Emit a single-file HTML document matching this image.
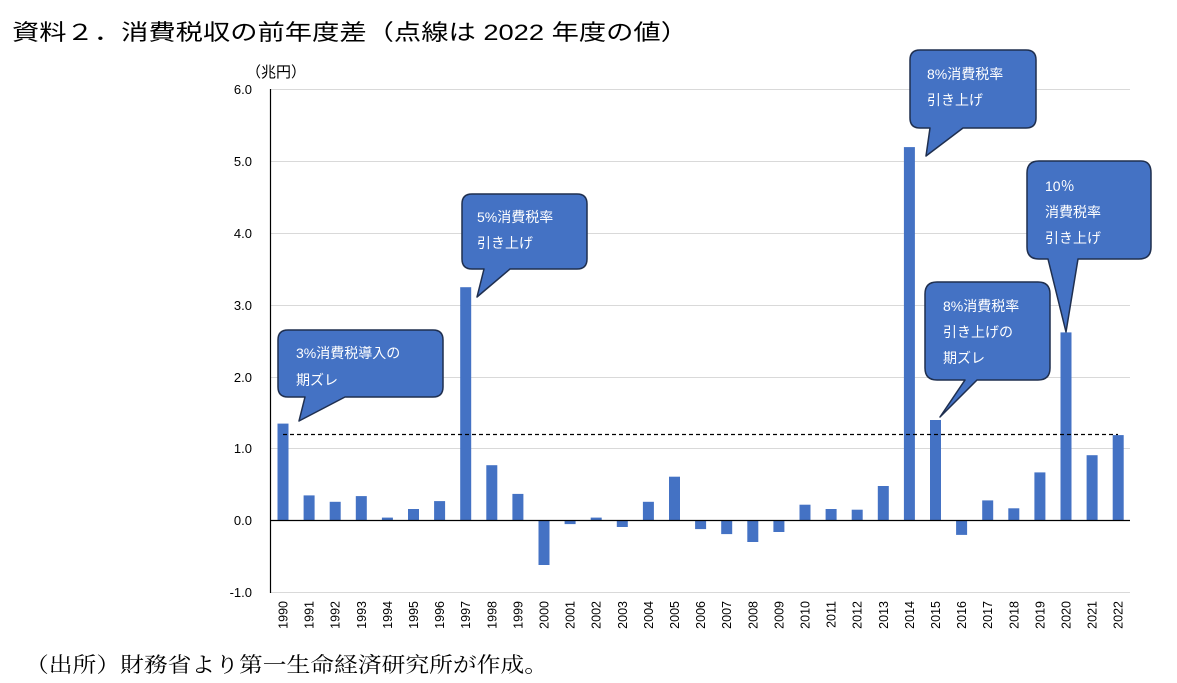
<!DOCTYPE html>
<html><head><meta charset="utf-8"><style>
html,body{margin:0;padding:0;background:#fff;}
svg{display:block;}
.t{font-family:"Liberation Sans","Noto Sans CJK JP",sans-serif;}
</style></head><body>
<svg width="1177" height="683" viewBox="0 0 1177 683" xmlns="http://www.w3.org/2000/svg">
<text class="t" x="12" y="40" font-size="22" fill="#000" textLength="676" lengthAdjust="spacingAndGlyphs">資料２．消費税収の前年度差（点線は 2022 年度の値）</text>
<text class="t" x="246" y="77" font-size="15" fill="#000">（兆円）</text>
<g stroke="#d9d9d9" stroke-width="1">
<line x1="270" y1="89.5" x2="1130" y2="89.5"/>
<line x1="270" y1="161.5" x2="1130" y2="161.5"/>
<line x1="270" y1="233.5" x2="1130" y2="233.5"/>
<line x1="270" y1="305.5" x2="1130" y2="305.5"/>
<line x1="270" y1="377.5" x2="1130" y2="377.5"/>
<line x1="270" y1="448.5" x2="1130" y2="448.5"/>
<line x1="270" y1="592.5" x2="1130" y2="592.5"/>
</g>
<g class="t" font-size="13" fill="#000" text-anchor="end">
<text x="252" y="94">6.0</text><text x="252" y="166">5.0</text><text x="252" y="238">4.0</text>
<text x="252" y="310">3.0</text><text x="252" y="382">2.0</text><text x="252" y="453">1.0</text>
<text x="252" y="525">0.0</text><text x="252" y="597">-1.0</text>
</g>
<g fill="#4472C4">
<rect x="277.5" y="423.6" width="11" height="96.9"/>
<rect x="303.6" y="495.4" width="11" height="25.1"/>
<rect x="329.7" y="501.8" width="11" height="18.7"/>
<rect x="355.8" y="496.1" width="11" height="24.4"/>
<rect x="381.9" y="517.6" width="11" height="2.9"/>
<rect x="408.0" y="509.0" width="11" height="11.5"/>
<rect x="434.1" y="501.1" width="11" height="19.4"/>
<rect x="460.2" y="287.2" width="11" height="233.3"/>
<rect x="486.3" y="465.2" width="11" height="55.3"/>
<rect x="512.4" y="493.9" width="11" height="26.6"/>
<rect x="538.5" y="520.5" width="11" height="44.5"/>
<rect x="564.6" y="520.5" width="11" height="3.6"/>
<rect x="590.7" y="517.6" width="11" height="2.9"/>
<rect x="616.8" y="520.5" width="11" height="6.5"/>
<rect x="642.9" y="501.8" width="11" height="18.7"/>
<rect x="669.0" y="476.7" width="11" height="43.8"/>
<rect x="695.1" y="520.5" width="11" height="8.6"/>
<rect x="721.2" y="520.5" width="11" height="13.6"/>
<rect x="747.3" y="520.5" width="11" height="21.5"/>
<rect x="773.4" y="520.5" width="11" height="11.5"/>
<rect x="799.5" y="504.7" width="11" height="15.8"/>
<rect x="825.6" y="509.0" width="11" height="11.5"/>
<rect x="851.7" y="509.7" width="11" height="10.8"/>
<rect x="877.8" y="486.0" width="11" height="34.5"/>
<rect x="903.9" y="147.1" width="11" height="373.4"/>
<rect x="930.0" y="420.0" width="11" height="100.5"/>
<rect x="956.1" y="520.5" width="11" height="14.4"/>
<rect x="982.2" y="500.4" width="11" height="20.1"/>
<rect x="1008.3" y="508.3" width="11" height="12.2"/>
<rect x="1034.4" y="472.4" width="11" height="48.1"/>
<rect x="1060.5" y="332.4" width="11" height="188.1"/>
<rect x="1086.6" y="455.2" width="11" height="65.3"/>
<rect x="1112.7" y="435.1" width="11" height="85.4"/>
</g>
<line x1="270.5" y1="89" x2="270.5" y2="593" stroke="#000" stroke-width="1.2"/>
<line x1="270" y1="520.5" x2="1130" y2="520.5" stroke="#000" stroke-width="1.2"/>
<line x1="283" y1="434.5" x2="1118" y2="434.5" stroke="#000" stroke-width="1.2" stroke-dasharray="4,3"/>
<g class="t" font-size="12.5" fill="#000" text-anchor="end">
<text transform="translate(287.5,601) rotate(-90)">1990</text>
<text transform="translate(313.6,601) rotate(-90)">1991</text>
<text transform="translate(339.7,601) rotate(-90)">1992</text>
<text transform="translate(365.8,601) rotate(-90)">1993</text>
<text transform="translate(391.9,601) rotate(-90)">1994</text>
<text transform="translate(418.0,601) rotate(-90)">1995</text>
<text transform="translate(444.1,601) rotate(-90)">1996</text>
<text transform="translate(470.2,601) rotate(-90)">1997</text>
<text transform="translate(496.3,601) rotate(-90)">1998</text>
<text transform="translate(522.4,601) rotate(-90)">1999</text>
<text transform="translate(548.5,601) rotate(-90)">2000</text>
<text transform="translate(574.6,601) rotate(-90)">2001</text>
<text transform="translate(600.7,601) rotate(-90)">2002</text>
<text transform="translate(626.8,601) rotate(-90)">2003</text>
<text transform="translate(652.9,601) rotate(-90)">2004</text>
<text transform="translate(679.0,601) rotate(-90)">2005</text>
<text transform="translate(705.1,601) rotate(-90)">2006</text>
<text transform="translate(731.2,601) rotate(-90)">2007</text>
<text transform="translate(757.3,601) rotate(-90)">2008</text>
<text transform="translate(783.4,601) rotate(-90)">2009</text>
<text transform="translate(809.5,601) rotate(-90)">2010</text>
<text transform="translate(835.6,601) rotate(-90)">2011</text>
<text transform="translate(861.7,601) rotate(-90)">2012</text>
<text transform="translate(887.8,601) rotate(-90)">2013</text>
<text transform="translate(913.9,601) rotate(-90)">2014</text>
<text transform="translate(940.0,601) rotate(-90)">2015</text>
<text transform="translate(966.1,601) rotate(-90)">2016</text>
<text transform="translate(992.2,601) rotate(-90)">2017</text>
<text transform="translate(1018.3,601) rotate(-90)">2018</text>
<text transform="translate(1044.4,601) rotate(-90)">2019</text>
<text transform="translate(1070.5,601) rotate(-90)">2020</text>
<text transform="translate(1096.6,601) rotate(-90)">2021</text>
<text transform="translate(1122.7,601) rotate(-90)">2022</text>
</g>
<g stroke="#1f2f4f" stroke-width="1.5" fill="#4472C4" stroke-linejoin="round">
<path d="M290,330 H433 Q443,330 443,340 V387 Q443,397 433,397 H345 L299,421 L305,397 H288 Q278,397 278,387 V340 Q278,330 288,330 Z"/>
<path d="M472,194 H577 Q587,194 587,204 V259 Q587,269 577,269 H510 L477,297 L484,269 H472 Q462,269 462,259 V204 Q462,194 472,194 Z"/>
<path d="M920,50 H1026 Q1036,50 1036,60 V118 Q1036,128 1026,128 H963 L926,156 L930,128 H920 Q910,128 910,118 V60 Q910,50 920,50 Z"/>
<path d="M1039,161 H1141 Q1151,161 1151,173 V247 Q1151,259 1139,259 H1078 L1066,332 L1048,259 H1039 Q1027,259 1027,247 V173 Q1027,161 1039,161 Z"/>
<path d="M937,282 H1038 Q1050,282 1050,294 V368 Q1050,380 1038,380 H977 L940,417 L965,380 H937 Q925,380 925,368 V294 Q925,282 937,282 Z"/>
</g>
<g class="t" font-size="14" fill="#fff">
<text x="296" y="358">3%消費税導入の</text><text x="296" y="385">期ズレ</text>
<text x="477" y="222">5%消費税率</text><text x="477" y="248">引き上げ</text>
<text x="927" y="79">8%消費税率</text><text x="927" y="105">引き上げ</text>
<text x="1045" y="191">10％</text><text x="1045" y="217">消費税率</text><text x="1045" y="243">引き上げ</text>
<text x="943" y="311">8%消費税率</text><text x="943" y="337">引き上げの</text><text x="943" y="363">期ズレ</text>
</g>
<text x="25" y="672" font-family="'Liberation Serif','Noto Serif CJK SC',serif" font-size="21" fill="#000" textLength="523" lengthAdjust="spacingAndGlyphs">（出所）財務省より第一生命経済研究所が作成。</text>
</svg>
</body></html>
